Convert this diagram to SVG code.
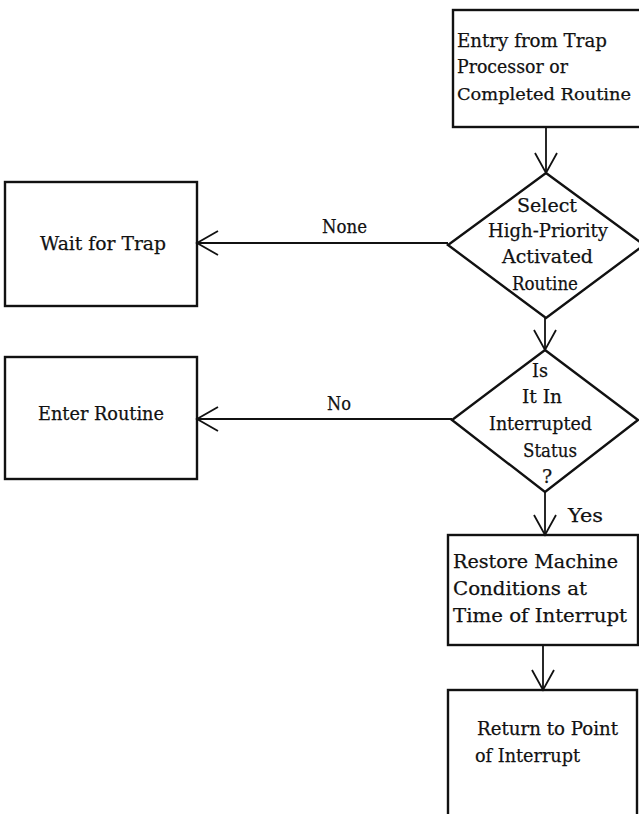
<svg xmlns="http://www.w3.org/2000/svg" width="639" height="814" viewBox="0 0 639 814">
<style>
.box{fill:none;stroke:#111;stroke-width:2.4}
.ln{fill:none;stroke:#111;stroke-width:1.8}
.ah{fill:none;stroke:#111;stroke-width:1.8}
text{font-family:"DejaVu Serif","Liberation Serif",serif;font-size:19px;fill:#111;stroke:#111;stroke-width:0.25}
</style>
<rect width="639" height="814" fill="#fff"/>
<g id="entry">
<rect class="box" x="453" y="10" width="200" height="117"/>
<text x="457" y="47" textLength="150" lengthAdjust="spacingAndGlyphs">Entry from Trap</text>
<text x="457" y="73" textLength="111" lengthAdjust="spacingAndGlyphs">Processor or</text>
<text x="457" y="100" style="font-size:17px" textLength="174" lengthAdjust="spacingAndGlyphs">Completed Routine</text>
</g>
<g id="select">
<polygon class="box" points="546,173 644,245 546,318 448,245"/>
<text x="517" y="212" textLength="60" lengthAdjust="spacingAndGlyphs">Select</text>
<text x="488" y="237" textLength="120" lengthAdjust="spacingAndGlyphs">High-Priority</text>
<text x="502" y="263" textLength="91" lengthAdjust="spacingAndGlyphs">Activated</text>
<text x="512" y="290" textLength="66" lengthAdjust="spacingAndGlyphs">Routine</text>
</g>
<g id="interrupted">
<polygon class="box" points="545,350 638,420 545,492 452,420"/>
<text x="532" y="377" textLength="16" lengthAdjust="spacingAndGlyphs">Is</text>
<text x="522" y="403" textLength="40" lengthAdjust="spacingAndGlyphs">It In</text>
<text x="489" y="430" textLength="103" lengthAdjust="spacingAndGlyphs">Interrupted</text>
<text x="523" y="457" textLength="54" lengthAdjust="spacingAndGlyphs">Status</text>
<text x="542" y="483">?</text>
</g>
<g id="wait">
<rect class="box" x="5" y="182" width="192" height="124"/>
<text x="40" y="250" textLength="126" lengthAdjust="spacingAndGlyphs">Wait for Trap</text>
</g>
<g id="enter">
<rect class="box" x="5" y="357" width="192" height="122"/>
<text x="38" y="420" textLength="126" lengthAdjust="spacingAndGlyphs">Enter Routine</text>
</g>
<g id="restore">
<rect class="box" x="448" y="535" width="190" height="110"/>
<text x="453" y="568" textLength="165" lengthAdjust="spacingAndGlyphs">Restore Machine</text>
<text x="453" y="595" textLength="134" lengthAdjust="spacingAndGlyphs">Conditions at</text>
<text x="453" y="622" textLength="174" lengthAdjust="spacingAndGlyphs">Time of Interrupt</text>
</g>
<g id="return">
<rect class="box" x="448" y="690" width="189" height="130"/>
<text x="477" y="735" textLength="141" lengthAdjust="spacingAndGlyphs">Return to Point</text>
<text x="475" y="762" textLength="105" lengthAdjust="spacingAndGlyphs">of Interrupt</text>
</g>
<g id="connectors">
<line class="ln" x1="546" y1="127" x2="546" y2="173"/>
<polyline class="ah" points="535,153 546,173 557,153"/>
<line class="ln" x1="545" y1="318" x2="545" y2="350"/>
<polyline class="ah" points="534,330 545,350 556,330"/>
<line class="ln" x1="545" y1="492" x2="545" y2="535"/>
<polyline class="ah" points="534,515 545,535 556,515"/>
<line class="ln" x1="543" y1="645" x2="543" y2="690"/>
<polyline class="ah" points="532,670 543,690 554,670"/>
<line class="ln" x1="448" y1="243" x2="197" y2="243"/>
<polyline class="ah" points="218,231 197,243 218,255"/>
<line class="ln" x1="452" y1="419" x2="197" y2="419"/>
<polyline class="ah" points="218,407 197,419 218,431"/>
<text x="322" y="233" textLength="45" lengthAdjust="spacingAndGlyphs">None</text>
<text x="327" y="410" textLength="24" lengthAdjust="spacingAndGlyphs">No</text>
<text x="568" y="522" textLength="35" lengthAdjust="spacingAndGlyphs">Yes</text>
</g>
</svg>
